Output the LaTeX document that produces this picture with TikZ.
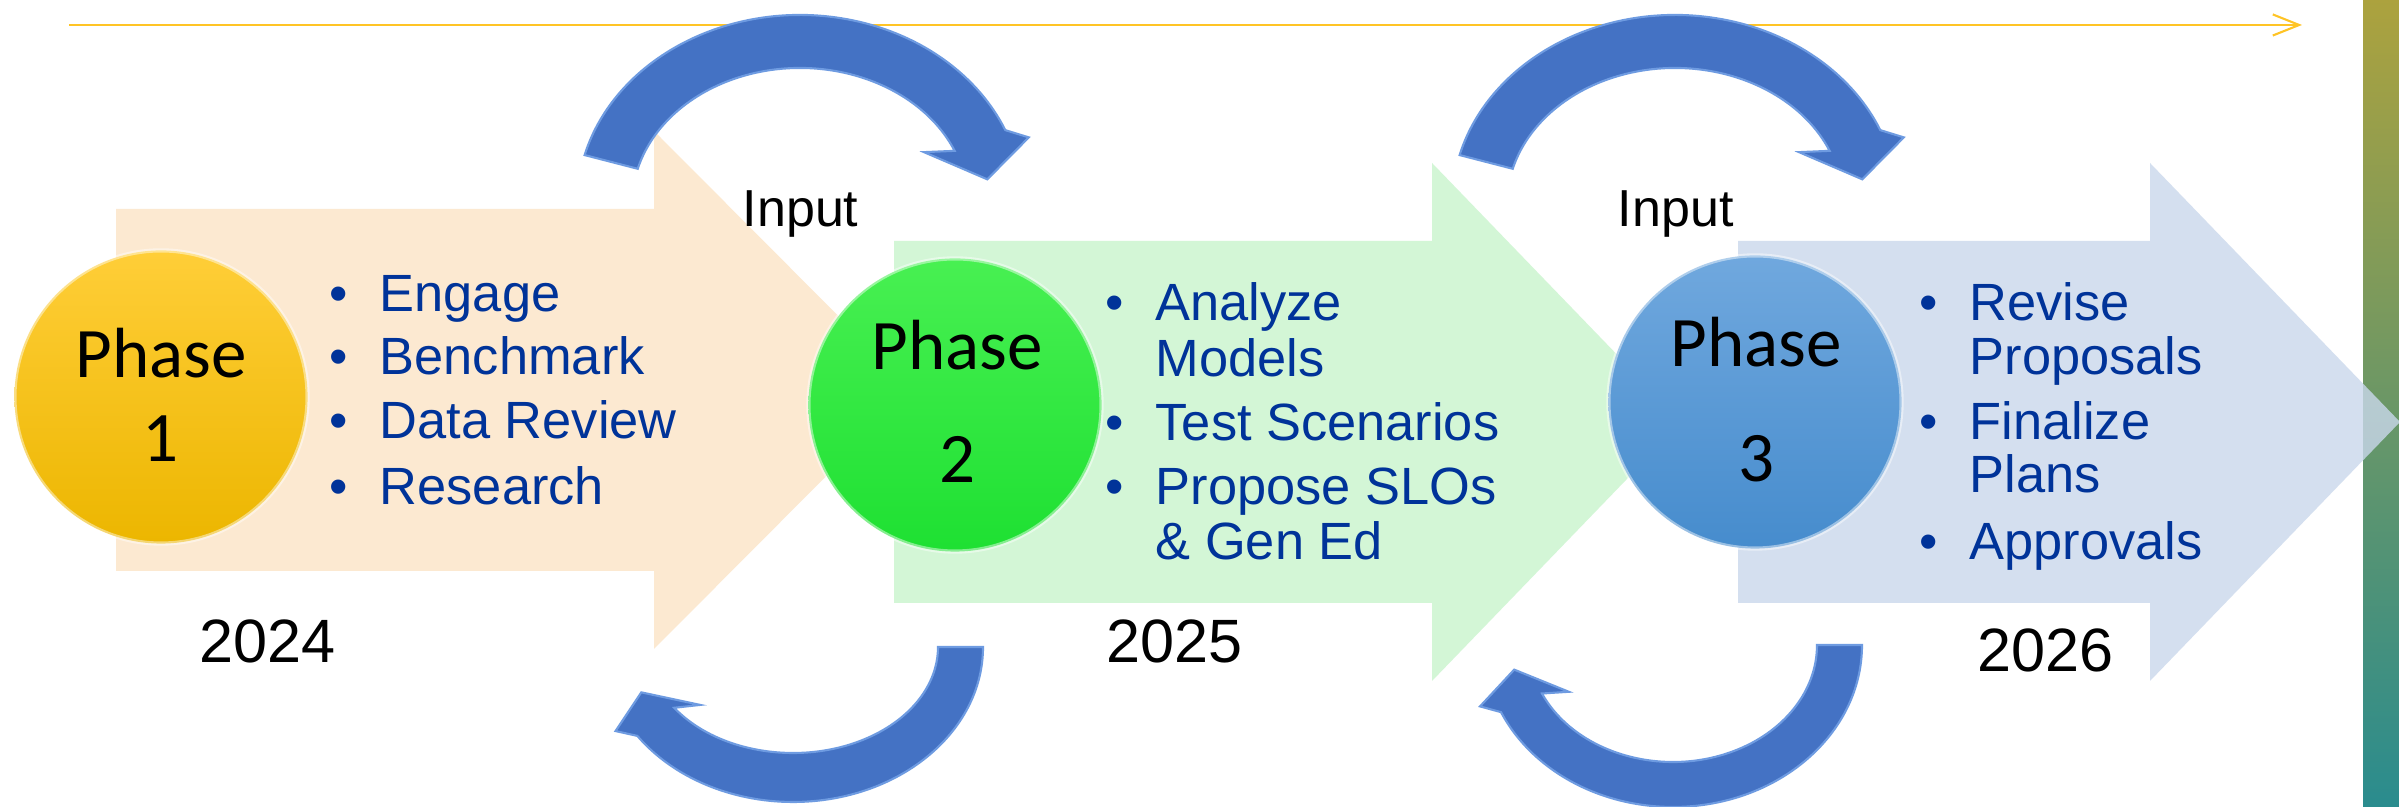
\documentclass[tikz,border=0pt]{standalone}
\usepackage{fontspec}
\setmainfont{Liberation Sans}
\newfontfamily\calibri{Carlito}
\usetikzlibrary{arrows.meta}
\definecolor{linegold}{RGB}{255,196,37}
\definecolor{itemblue}{RGB}{0,51,153}
\definecolor{arcblue}{RGB}{68,114,196}
\definecolor{arcedge}{RGB}{110,155,225}
\definecolor{peach}{RGB}{252,228,198}
\definecolor{mint}{RGB}{200,244,204}
\definecolor{sky}{RGB}{202,216,236}
\definecolor{stripTop}{RGB}{172,162,62}
\definecolor{stripMid}{RGB}{108,152,112}
\definecolor{stripBot}{RGB}{42,140,142}

\begin{document}
\begin{tikzpicture}[x=0.01cm,y=0.01cm,
    listitem/.style={font=\fontsize{14.9}{18}\selectfont, text=itemblue, anchor=base west, inner sep=0pt},
    bulitem/.style={listitem, execute at begin node={\llap{\textbullet\hspace{9pt}}}},
    phaseball/.style={circle, minimum size=2.93cm, inner sep=0pt, draw=white, draw opacity=0.45, line width=1.2pt},
    phasetext/.style={font=\calibri\fontsize{20.2}{24}\selectfont, anchor=base, inner sep=0pt},
    yeartext/.style={font=\fontsize{17.4}{20}\selectfont, anchor=base west, inner sep=0pt},
    inputtext/.style={font=\fontsize{14.8}{18}\selectfont, anchor=base west, inner sep=0pt}]
  \useasboundingbox (0,0) rectangle (2399,807);
  \fill[white] (0,0) rectangle (2399,807);
  % side strip
  \shade[top color=stripTop, middle color=stripMid, bottom color=stripBot] (2363,0) rectangle (2399,807);
  % phase arrows
  \foreach \xa/\xh/\yc/\xt/\col in {116/654/417/912/peach, 894/1432/385/1682/mint, 1738/2150/385/2400/sky}
    \fill[\col, fill opacity=0.8] (\xa,\yc-181) -- (\xh,\yc-181) -- (\xh,\yc-259) -- (\xt,\yc)
      -- (\xh,\yc+259) -- (\xh,\yc+181) -- (\xa,\yc+181) -- cycle;
  % timeline
  \coordinate (tl-a) at (69,782);
  \coordinate (tl-b) at (2302,782);
  \draw[linegold, line width=0.6pt, -{Straight Barb[length=7.5pt,width=6pt]}] (tl-a) -- (tl-b);
  % phase circles
  \node[phaseball, top color={rgb,255:red,255;green,206;blue,56}, bottom color={rgb,255:red,236;green,182;blue,0}] (c1) at (161,410) {};
  \node[phaseball, top color={rgb,255:red,72;green,240;blue,82}, bottom color={rgb,255:red,30;green,224;blue,50}] (c2) at (955,402) {};
  \node[phaseball, top color={rgb,255:red,112;green,168;blue,222}, bottom color={rgb,255:red,70;green,140;blue,205}] (c3) at (1755,405) {};
  \node[phasetext] (c1-top) at (161,429) {Phase};
  \node[phasetext] (c1-num) at (161,345) {1};
  \node[phasetext] (c2-top) at (957,437) {Phase};
  \node[phasetext] (c2-num) at (957,324) {2};
  \node[phasetext] (c3-top) at (1756,440) {Phase};
  \node[phasetext] (c3-num) at (1756,325) {3};
  % lists
  \foreach \n/\y/\s/\t in {a/495/bulitem/Engage, b/432/bulitem/Benchmark, c/368/bulitem/Data Review, d/302/bulitem/Research}
    \node[\s] (one-\n) at (379,\y) {\t};
  \foreach \n/\y/\s/\t in {a/486/bulitem/Analyze, b/430/listitem/Models, c/366/bulitem/Test Scenarios, d/302/bulitem/Propose SLOs, e/247/listitem/\& Gen Ed}
    \node[\s] (two-\n) at (1155,\y) {\t};
  \foreach \n/\y/\s/\t in {a/486/bulitem/Revise, b/432/listitem/Proposals, c/367/bulitem/Finalize, d/314/listitem/Plans, e/247/bulitem/Approvals}
    \node[\s] (three-\n) at (1969,\y) {\t};
  % labels
  \node[inputtext] (in-a) at (742,580) {Input};
  \node[inputtext] (in-b) at (1617,580) {Input};
  \node[yeartext] (y-a) at (199,144) {2024};
  \node[yeartext] (y-b) at (1106,144) {2025};
  \node[yeartext] (y-c) at (1977,135) {2026};
  % curved arrows
  \foreach \cx/\cy/\rxo/\ryo/\rxi/\ryi/\s/\b in {800/603/223/189/168/136/165/23, 1675/603/223/189/168/136/165/23,
      793/160/190/155/145/106/0/-145, 1673/162/189/162/144/117/0/-155.5}
    \filldraw[fill=arcblue, draw=arcedge, line width=0.6pt]
      ({\cx+\rxo*cos(\s)},{\cy+\ryo*sin(\s)})
      arc[start angle=\s, end angle=\b, x radius=\rxo, y radius=\ryo]
      -- ({\cx+1.24*(\rxo+\rxi)/2*cos(\b-3.7)},{\cy+1.24*(\ryo+\ryi)/2*sin(\b-3.7)})
      -- ({\cx+0.97*(\rxo+\rxi)/2*cos(\b-14)},{\cy+0.97*(\ryo+\ryi)/2*sin(\b-14)})
      -- ({\cx+0.71*(\rxo+\rxi)/2*cos(\b+3.7)},{\cy+0.71*(\ryo+\ryi)/2*sin(\b+3.7)})
      -- ({\cx+\rxi*cos(\b)},{\cy+\ryi*sin(\b)})
      arc[start angle=\b, end angle=\s, x radius=\rxi, y radius=\ryi]
      -- cycle;
\end{tikzpicture}
\end{document}
